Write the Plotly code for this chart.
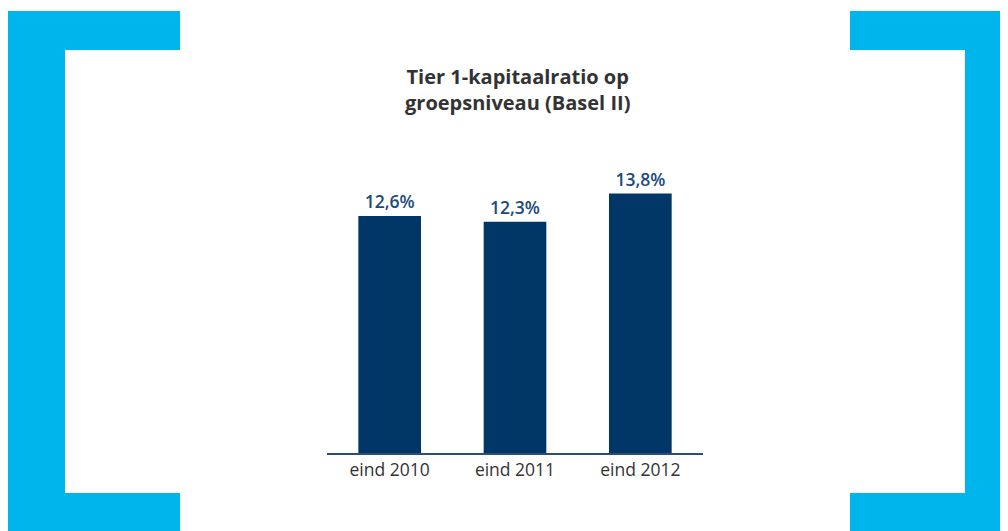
import plotly.graph_objects as go

# Data
categories = ['eind 2010', 'eind 2011', 'eind 2012']
ratios = [12.6, 12.3, 13.8]
labels = [f"{v:.1f}%".replace('.', ',') for v in ratios]

# page body has an 8px margin, so figure is drawn at (8, 8)
OFF = 8
W, H = 1000, 523
CYAN = '#00b4ec'
NAVY = '#003767'


def px_x(x):
    return (x - OFF) / W


def px_y(y):
    return 1 - (y - OFF) / H


fig = go.Figure(go.Bar(
    x=categories, y=ratios,
    marker=dict(color=NAVY, line=dict(width=0)),
    text=labels, textposition='outside', cliponaxis=False,
    textfont=dict(family='Open Sans', size=17.5, color='#1d4a7c', weight=600),
    width=0.5,
))


# bracket shapes, given in page pixels
def rect(x0, y0, x1, y1):
    return dict(type='rect', xref='paper', yref='paper',
                x0=px_x(x0), x1=px_x(x1), y0=px_y(y1), y1=px_y(y0),
                fillcolor=CYAN, line=dict(width=0), layer='below')


shapes = [
    rect(8, 11, 180, 50), rect(8, 11, 65, 540), rect(8, 493, 180, 540),
    rect(850, 11, 1020, 50), rect(965, 11, 1020, 540), rect(850, 493, 1020, 540),
]

fig.update_layout(
    width=W, height=H, margin=dict(l=0, r=0, t=0, b=0),
    paper_bgcolor='white', plot_bgcolor='white',
    showlegend=False, shapes=shapes,
    xaxis=dict(domain=[px_x(327), px_x(703)], range=[-0.5, 2.5],
               showline=True, linecolor='#2a4d7a', linewidth=1.5,
               showgrid=False, ticks='', fixedrange=True,
               tickfont=dict(family='Open Sans', size=17.5, color='#333333')),
    yaxis=dict(domain=[px_y(453), px_y(171)], range=[0, 15],
               visible=False, showgrid=False, zeroline=False),
    annotations=[dict(
        text='<b>Tier 1-kapitaalratio op<br>groepsniveau (Basel II)</b>',
        x=px_x(517), y=px_y(90), xref='paper', yref='paper',
        showarrow=False, xanchor='center', yanchor='middle',
        font=dict(family='Open Sans', size=20, color='#333333'),
    )],
)

fig.write_html("out.html")
